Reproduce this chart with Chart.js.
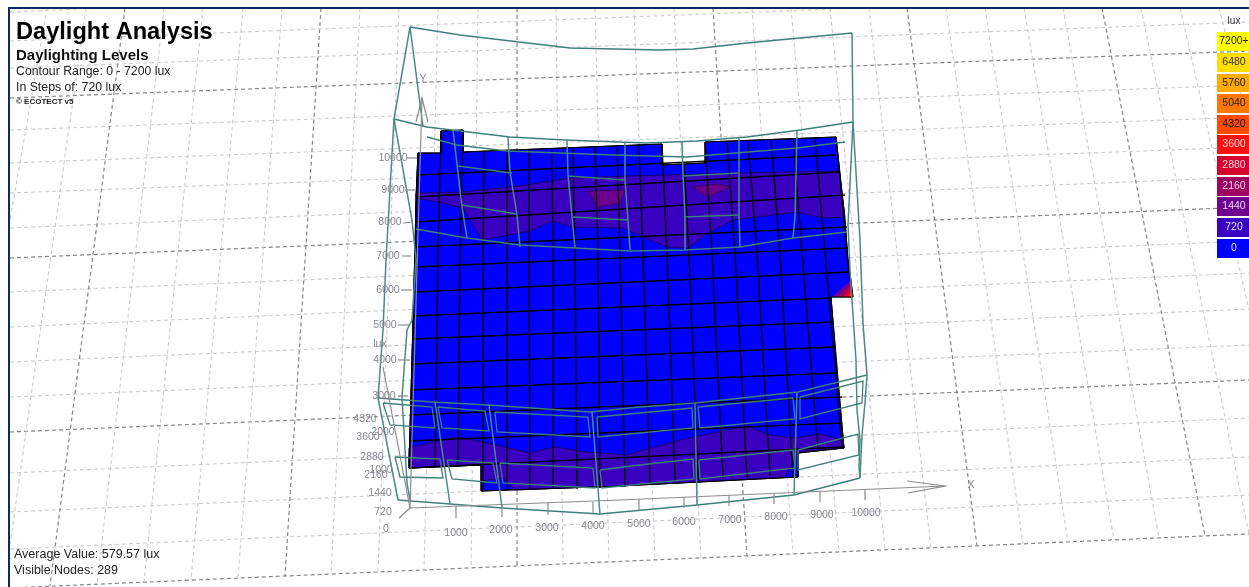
<!DOCTYPE html>
<html>
<head>
<meta charset="utf-8">
<title>Daylight Analysis</title>
<script src="https://cdn.jsdelivr.net/npm/chart.js@4/dist/chart.umd.min.js"></script>
<style>
  html, body { margin: 0; padding: 0; background: #fff; overflow: hidden; }
  canvas { display: block; filter: blur(0.45px); }
</style>
</head>
<body>
<canvas id="view" width="1249" height="587"></canvas>
<script>

// ground grid, rows: [yAtLeft, yAtRight]
const gridRows = [[68,22],[98,51],[130,85],[163,117],[193,147],[228,177],[258,207],[292,241],[327,273],[362,309],[397,345],[432,380],[473,418],[512,457],[549,495],[588,534]];
const gridRowMajor = [1,6,11,15];
const gridColTop = [125,164,203,243,282,321,360,399,438,478,517,556,595,634,674,713,752,791,830,869,907,946,985,1024,1063,1102,1141];
const gridColBottom = [50,97,144,191,238,285,331,378,424,471,517,563,609,655,701,747,793,839,885,931,977,1023,1068,1114,1159,1205,1249];
const gridColBottomY = [586,584,582,580,578,576,574,572,570,568,566,564,562,560,558,556,554,552,550,548,546,544,542,540,538,536,534];
const gridExtras = [[[10,41],[860,8]],[[10,12],[80,9]],[[86,8],[10,545]],[[47,8],[10,220]],[[1180,8],[1249,310]],[[1219,8],[1249,127]]];

// analysis surface and the contour bands on it
const surfaceOutline = [[418,153],[441,153],[441,131],[463,130],[463,152],[662,144],[662,165],[705,163],[705,142],[836,137],[845,220],[848,260],[851,281],[853,297],[831,297],[838,380],[844,448],[798,453],[798,477],[620,486],[481,491],[481,465],[409,468],[412,360],[415,247],[416,197]];
const topBand = [[416,193],[463,192],[520,186],[570,178],[627,176],[743,173],[839,171],[845,217],[823,218],[797,212],[733,220],[710,232],[688,248],[667,247],[623,228],[573,227],[552,221],[530,231],[482,240],[463,208],[438,202],[416,198]];
const bottomBand = [[409,448],[433,442],[457,437],[483,442],[530,453],[555,447],[587,452],[627,455],[680,440],[747,426],[770,435],[795,438],[820,434],[843,440],[844,448],[798,452],[785,477],[620,486],[515,490],[503,478],[481,481],[481,465],[409,468]];
const patchA = [[589,191],[625,190],[620,203],[597,207]];
const patchB = [[693,187],[718,184],[730,187],[708,197]];
const hotCorner = [
  [[832,297],[851,280],[853,297]],
  [[838,297],[851,284],[853,297]],
  [[843,297],[851,287],[853,297]],
  [[847,297],[851,290],[853,297]],
  [[850,296],[851,293],[852,296]]
];
const hotCornerLevels = [8,7,6,5,4];

// calculation mesh
const meshTopX = [418,441,463,484,507,529,552,573,595,617,639,662,684,705,727,748,771,793,815,836];
const meshTopY = [153,131,130,151,150,149,148,147,146,145,144,144,164,142,141,140,139,138,138,137];
const meshMidX = [415,438,460,483,507,529,553,575,598,620,643,667,689,712,735,757,780,802,825,847];
const meshBotX = [409,435,458,483,507,530,553,577,600,625,650,675,698,723,747,770,793,818,842,850];
const meshBotY = [468,467,466,491,490,490,489,489,488,487,484,482,480,478,477,476,477,450,447,281];
const meshRows = [
  [[418,175],[836,155]],[[417,197],[840,172]],[[416,222],[845,195]],[[415,247],[847,227]],
  [[415,267],[848,248]],[[415,292],[850,272]],[[413,316],[831,298]],[[412,339],[833,322]],
  [[412,364],[835,347]],[[411,390],[838,373]],[[410,415],[842,397]],[[409,441],[842,423]],[[409,468],[843,447]]
];

// building wireframe
const roofArcs = [
  [[410,27],[460,35],[570,48],[660,50],[693,49],[747,43],[852,33]],
  [[394,119],[427,127],[510,137],[565,140],[647,143],[697,141],[747,137],[800,130],[853,122]],
  [[427,137],[457,145],[507,151],[613,155],[687,157],[797,148],[845,142]],
  [[416,229],[467,238],[520,245],[575,248],[630,251],[685,250],[740,247],[793,238],[847,232]],
  [[378,398],[433,402],[488,405],[590,412],[640,407],[695,403],[798,392],[867,375]],
  [[398,500],[450,504],[502,508],[600,514],[697,505],[794,495],[860,478]]
];
const wallPosts = [
  [[410,27],[394,119],[386,260],[383,330],[378,398],[398,500]],
  [[410,27],[423,127]],
  [[394,119],[412,220],[416,260],[412,320],[407,330],[402,397],[407,483],[410,500]],
  [[852,33],[853,122],[848,225],[850,270],[856,360],[857,410],[860,440],[859,467],[860,478]],
  [[853,122],[860,240],[863,323],[867,375],[865,403],[862,435],[860,478]],
  [[453,130],[462,207],[467,238]],
  [[508,137],[510,172],[517,215],[520,247]],
  [[567,140],[568,175],[572,217],[575,248]],
  [[625,143],[625,180],[628,220],[630,250]],
  [[682,141],[683,173],[685,217],[685,250]],
  [[739,138],[739,215],[740,247]],
  [[797,131],[795,217],[793,238]],
  [[435,402],[450,504]],
  [[489,405],[502,508]],
  [[592,412],[600,514]],
  [[695,403],[697,505]],
  [[797,392],[794,495]]
];
const windowFrames = [
  [[458,166],[512,173]],[[568,176],[625,180]],[[683,176],[739,173]],
  [[462,205],[517,214]],[[573,217],[628,220]],[[684,217],[739,215]],
  [[383,403],[432,407],[435,428],[390,425],[383,403]],
  [[438,407],[485,411],[489,431],[442,428],[438,407]],
  [[495,412],[588,417],[590,437],[497,432],[495,412]],
  [[597,417],[640,413],[692,408],[693,428],[598,437],[597,417]],
  [[698,407],[793,398],[795,419],[700,428],[698,407]],
  [[800,397],[863,381],[862,403],[800,419],[800,397]],
  [[395,457],[440,459],[443,478],[400,477],[395,457]],
  [[447,460],[493,463],[497,483],[452,479],[447,460]],
  [[500,463],[593,468],[595,488],[503,483],[500,463]],
  [[600,470],[640,465],[693,459],[694,479],[602,488],[600,470]],
  [[699,460],[793,450],[795,468],[700,479],[699,460]],
  [[798,450],[858,434],[859,455],[798,470],[798,450]]
];

// axes of the analysis grid
const axisLines = [
  [[410,508],[620,500],[945,486]],
  [[907,481],[945,486],[908,493]],
  [[410,508],[422,98]],
  [[416,122],[422,98],[428,122]],
  [[410,508],[383,367]],
  [[410,508],[399,518]]
];
const xTickAt = [[456,507,456,518],[502,505,502,517],[548,503,548,515],[593,502,593,513],[639,499,639,510],[684,497,684,508],[729,495,729,506],[774,493,774,504],[820,491,820,502],[865,489,865,500]];
const yTickAt = [[407,158,417,158],[405,190,415,190],[403,223,413,222],[402,256,411,256],[401,290,412,290],[398,325,410,325],[398,360,410,360],[398,396,408,396]];

const xLabels = ['1000','2000','3000','4000','5000','6000','7000','8000','9000','10000'];
const xLabelAt = [[456,533],[501,530],[547,528],[593,526],[639,524],[684,522],[730,520],[776,517],[822,515],[866,513]];
const yLabels = ['10000','9000','8000','7000','6000','5000','4000','3000','2000','1000'];
const yLabelAt = [[393,158],[393,190],[390,222],[388,256],[388,290],[385,325],[385,360],[384,396],[383,432],[381,470]];
const luxLabels = ['4320','3600','2880','2160','1440','720','0'];
const luxLabelAt = [[365,419],[368,437],[372,457],[376,475],[380,493],[383,512],[386,529]];

// legend
const legendValues = ['7200+','6480','5760','5040','4320','3600','2880','2160','1440','720','0'];
const legendColors = ['#ffff00','#ffdd00','#ffaa00','#ff7700','#ff4a00','#ff0f0f','#d8002e','#a00060','#6e0090','#3a00c0','#0000ff'];
const legendInk = ['#222','#333','#222','#222','#111','#ffd0d0','#ffd0d0','#f4d0e8','#e8d8f8','#e0e0ff','#e0e0ff'];
const legendTop = [32,53,74,94,115,135,156,177,197,218,239];
const legendBottom = [51,72,92,113,134,154,175,196,216,237,258];

const titleLines = [
  ['Daylight Analysis', 16, 32, 'bold 23.6px "Liberation Sans"', '#000'],
  ['Daylighting Levels', 16, 56, 'bold 15px "Liberation Sans"', '#111'],
  ['Contour Range: 0 - 7200 lux', 16, 72, '12.3px "Liberation Sans"', '#222'],
  ['In Steps of: 720 lux', 16, 88, '12.3px "Liberation Sans"', '#222'],
  ['© ECOTECT v5', 16, 102, 'bold 8px "Liberation Sans"', '#222'],
  ['Average Value: 579.57 lux', 14, 555, '12.5px "Liberation Sans"', '#222'],
  ['Visible Nodes: 289', 14, 571, '12.5px "Liberation Sans"', '#222']
];

const datasets = [];
function toXY(points) {
  return points.map(p => ({ x: p[0], y: p[1] }));
}
function stroke(points, color, width, dash) {
  datasets.push({ data: toXY(points), showLine: true, pointRadius: 0, borderColor: color, borderWidth: width, borderDash: dash || [], fill: false });
}
function area(points, color, edge) {
  const closed = points.concat([points[0]]);
  datasets.push({ data: toXY(closed), showLine: true, pointRadius: 0, borderColor: edge || color, borderWidth: edge ? 1 : 0, backgroundColor: color, fill: 'shape' });
}

// ground grid
gridRows.forEach((r, i) => {
  const major = gridRowMajor.includes(i);
  stroke([[10, r[0]], [1249, r[1]]], major ? '#858585' : '#cccccc', major ? 1.2 : 1.1, [4, 3]);
});
gridColTop.forEach((x, i) => {
  const major = i % 5 === 0;
  stroke([[x, 8], [gridColBottom[i], gridColBottomY[i]]], major ? '#858585' : '#cccccc', major ? 1.2 : 1.1, [4, 3]);
});
gridExtras.forEach(l => stroke(l, '#cccccc', 1.1, [4, 3]));

// surface
area(surfaceOutline, '#0000ff', '#000000');
area(topBand, '#3a00c0', '#1c0070');
area(bottomBand, '#3a00c0', '#1c0070');
area(patchA, '#6e0090', '#3a0060');
area(patchB, '#6e0090', '#3a0060');
hotCorner.forEach((t, i) => area(t, legendColors[hotCornerLevels[i]]));

// mesh
meshTopX.forEach((x, i) => {
  stroke([[x, meshTopY[i]], [meshMidX[i], Math.max(253, meshTopY[i])], [meshBotX[i], meshBotY[i]]], '#000000', 1.3);
});
meshRows.forEach(l => stroke(l, '#000000', 1.3));
stroke(surfaceOutline.concat([surfaceOutline[0]]), '#000000', 1);

// wireframe
roofArcs.forEach(l => stroke(l, '#3f7f7b', 1.5));
wallPosts.forEach(l => stroke(l, '#4a8a86', 1.5));
windowFrames.forEach(l => stroke(l, '#3f7f7b', 1.3));

// axes
axisLines.forEach(l => stroke(l, '#8c8c8c', 1.2));
xTickAt.forEach(t => stroke([[t[0], t[1]], [t[2], t[3]]], '#8c8c8c', 1.2));
yTickAt.forEach(t => stroke([[t[0], t[1]], [t[2], t[3]]], '#8c8c8c', 1.2));

// legend swatches
legendColors.forEach((c, i) => {
  area([[1217, legendTop[i]], [1249, legendTop[i]], [1249, legendBottom[i]], [1217, legendBottom[i]]], c);
});

// window frame of the screenshot
stroke([[8, 8], [1249, 8]], '#0b2a6b', 2);
stroke([[9, 8], [9, 587]], '#0b2a6b', 2);

// chart.js paints the first dataset last, we pushed them back to front
datasets.reverse();

const textPlugin = {
  id: 'viewText',
  afterDatasetsDraw(chart) {
    const ctx = chart.ctx, sx = chart.scales.x, sy = chart.scales.y;
    const put = (text, x, y, font, color, align) => {
      ctx.font = font;
      ctx.fillStyle = color;
      ctx.textAlign = align || 'center';
      ctx.textBaseline = 'middle';
      ctx.fillText(text, sx.getPixelForValue(x), sy.getPixelForValue(y));
    };
    ctx.save();
    const tickFont = '10.5px "Liberation Sans"';
    xLabels.forEach((t, i) => put(t, xLabelAt[i][0], xLabelAt[i][1], tickFont, '#85858f'));
    yLabels.forEach((t, i) => put(t, yLabelAt[i][0], yLabelAt[i][1], tickFont, '#85858f'));
    luxLabels.forEach((t, i) => put(t, luxLabelAt[i][0], luxLabelAt[i][1], tickFont, '#85858f'));
    put('lux', 380, 344, tickFont, '#85858f');
    put('X', 971, 485, tickFont, '#85858f');
    put('Y', 423, 79, tickFont, '#85858f');
    put('lux', 1234, 21, '10px "Liberation Sans"', '#334');
    legendValues.forEach((t, i) => {
      put(t, 1234, (legendTop[i] + legendBottom[i]) / 2, '10.5px "Liberation Sans"', legendInk[i]);
    });
    titleLines.forEach(l => put(l[0], l[1], l[2], l[3], l[4], 'left'));
    ctx.restore();
  }
};

new Chart(document.getElementById('view'), {
  type: 'scatter',
  data: { datasets: datasets },
  plugins: [textPlugin],
  options: {
    responsive: false,
    animation: false,
    layout: { padding: 0 },
    plugins: { legend: { display: false }, tooltip: { enabled: false }, title: { display: false } },
    scales: {
      x: { type: 'linear', min: 0, max: 1249, display: false },
      y: { type: 'linear', min: 0, max: 587, reverse: true, display: false }
    }
  }
});
</script>
</body>
</html>
